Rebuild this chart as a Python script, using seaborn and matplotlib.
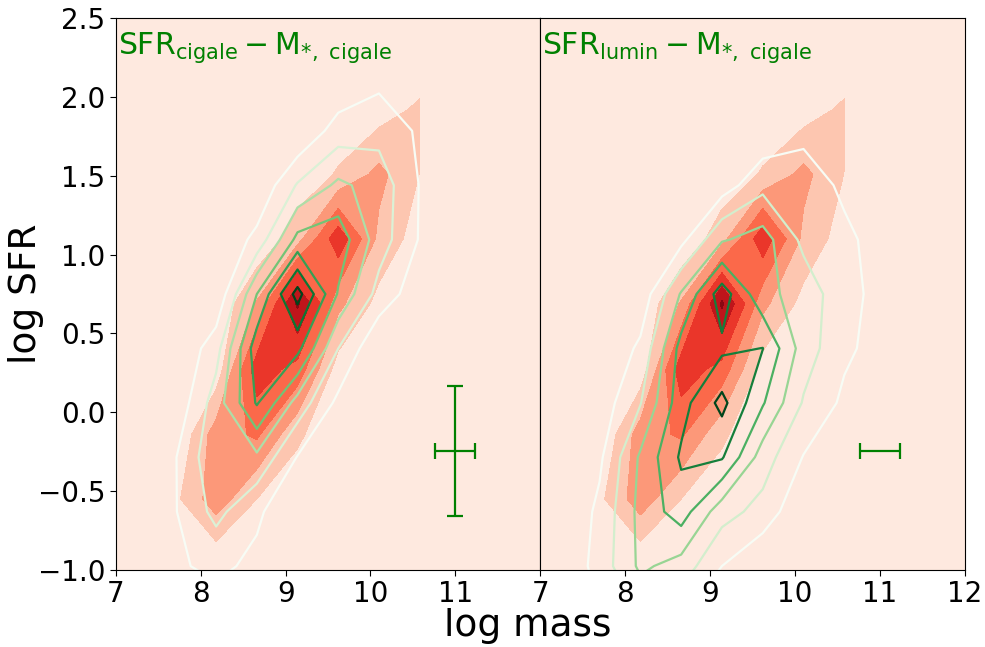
import numpy as np
import matplotlib
matplotlib.use("Agg")
import matplotlib.pyplot as plt
import seaborn as sns

sns.set_style("ticks")
plt.rcParams['font.family'] = ['DejaVu Sans']
plt.rcParams['mathtext.fontset'] = 'dejavusans'
plt.rcParams['text.color'] = 'black'
plt.rcParams['axes.labelcolor'] = 'black'
plt.rcParams['xtick.color'] = 'black'
plt.rcParams['ytick.color'] = 'black'

# ---- data: binned density grids ----
mass_red = [7.22, 7.70, 8.18, 8.66, 9.14, 9.62, 10.10, 10.58]
sfr_red = [-1.38, -0.97, -0.55, -0.14, 0.27, 0.69, 1.10, 1.51, 1.92, 2.33]
dens_red = [
    [0, 0.00, 0.00, 0.00, 0.0, 0.00, 0.00, 0.00],
    [0, 0.10, 0.10, 0.30, 0.1, 0.00, 0.00, 0.00],
    [0, 0.77, 2.60, 1.00, 0.3, 0.10, 0.00, 0.00],
    [0, 0.00, 2.50, 3.17, 1.2, 0.10, 0.00, 0.00],
    [0, 0.00, 0.35, 4.60, 3.6, 0.50, 0.30, 0.10],
    [0, 0.00, 0.10, 2.10, 6.2, 2.29, 0.65, 0.20],
    [0, 0.00, 0.00, 0.10, 1.6, 4.70, 1.74, 0.50],
    [0, 0.00, 0.00, 0.00, 0.3, 1.10, 2.30, 0.98],
    [0, 0.00, 0.00, 0.00, 0.0, 0.30, 0.50, 1.20],
    [0, 0.00, 0.00, 0.00, 0.0, 0.00, 0.00, 0.00],
]

mass_green = [7.22, 7.70, 8.18, 8.66, 9.14, 9.62, 10.10, 10.58, 11.06]
sfr_green = [-1.32, -0.975, -0.63, -0.285, 0.06, 0.405, 0.75, 1.095,
             1.44, 1.785, 2.13, 2.475]
dens_cigale = [
    [0, 0.30, 0.50, 0.20, 0.00, 0.00, 0.00, 0.00, 0],
    [0, 0.88, 1.20, 0.80, 0.10, 0.00, 0.00, 0.00, 0],
    [0, 0.95, 2.30, 1.15, 0.30, 0.10, 0.00, 0.00, 0],
    [0, 0.95, 2.80, 2.80, 0.95, 0.30, 0.00, 0.00, 0],
    [0, 0.25, 2.50, 5.10, 2.60, 0.75, 0.00, 0.00, 0],
    [0, 0.00, 1.59, 5.60, 5.30, 2.00, 0.10, 0.10, 0],
    [0, 0.00, 0.10, 4.00, 7.40, 3.90, 1.62, 0.40, 0],
    [0, 0.00, 0.00, 1.30, 4.30, 4.60, 2.50, 0.93, 0],
    [0, 0.00, 0.00, 0.10, 2.10, 3.20, 2.60, 0.96, 0],
    [0, 0.00, 0.00, 0.00, 0.00, 1.50, 1.66, 0.85, 0],
    [0, 0.00, 0.00, 0.00, 0.00, 0.00, 0.70, 0.30, 0],
    [0, 0.00, 0.00, 0.00, 0.00, 0.00, 0.00, 0.00, 0],
]
dens_lumin = [
    [0, 0.90, 2.00, 1.00, 0.20, 0.00, 0.00, 0.00, 0.00],
    [0, 1.41, 3.20, 2.60, 1.00, 0.00, 0.00, 0.00, 0.00],
    [0, 1.22, 3.30, 4.50, 2.40, 1.65, 0.10, 0.00, 0.00],
    [0, 0.82, 3.15, 5.15, 5.10, 2.50, 0.95, 0.00, 0.00],
    [0, 0.43, 1.95, 4.60, 6.30, 4.10, 1.90, 0.79, 0.30],
    [0, 0.00, 1.20, 4.35, 4.80, 5.02, 2.53, 1.20, 0.55],
    [0, 0.00, 0.30, 3.10, 5.50, 3.30, 2.59, 1.36, 0.60],
    [0, 0.00, 0.00, 0.70, 2.90, 3.43, 1.75, 1.20, 0.60],
    [0, 0.00, 0.00, 0.00, 0.50, 1.71, 1.50, 0.82, 0.30],
    [0, 0.00, 0.00, 0.00, 0.00, 0.26, 0.75, 0.30, 0.00],
    [0, 0.00, 0.00, 0.00, 0.00, 0.00, 0.20, 0.00, 0.00],
    [0, 0.00, 0.00, 0.00, 0.00, 0.00, 0.00, 0.00, 0.00],
]

err_x = [11.0]
err_y = [-0.245]
err_mass = [0.235]
err_sfr_left = [0.41]

labels = [r'$\mathrm{SFR_{cigale}-M_{*,\ cigale}}$',
          r'$\mathrm{SFR_{lumin}-M_{*,\ cigale}}$']

red_levels = list(range(8))
reds = sns.color_palette("Reds", as_cmap=True)
greens = sns.color_palette("Greens", as_cmap=True)
bg = reds(0.5 / 7)

fig = plt.figure(figsize=(9.85, 6.47), dpi=100)
ax1 = fig.add_axes([0.1178, 0.119, 0.4305, 0.853])
ax2 = fig.add_axes([0.5483, 0.119, 0.4314, 0.853], sharey=ax1)

for ax, dens, lev, lab in [(ax1, dens_cigale, list(range(1, 8)), labels[0]),
                           (ax2, dens_lumin, list(range(1, 7)), labels[1])]:
    ax.set_facecolor(bg)
    ax.contourf(mass_red, sfr_red, np.array(dens_red), levels=red_levels, cmap=reds)
    ax.contour(mass_green, sfr_green, np.array(dens), levels=lev, cmap=greens,
               linewidths=1.6)
    ax.set_xlim(7, 12)
    ax.set_ylim(-1, 2.5)
    ax.text(0.004, 0.978, lab, transform=ax.transAxes, ha='left', va='top',
            color='green', fontsize=21.5)
    for s in ax.spines.values():
        s.set_visible(True)
        s.set_color('black')
        s.set_linewidth(0.8)
    ax.tick_params(labelsize=20, direction='out', length=4, colors='black')

ax1.errorbar(err_x, err_y, xerr=err_mass, yerr=err_sfr_left, color='green',
             capsize=5.8, elinewidth=1.6, capthick=1.6, fmt='none')
ax2.errorbar(err_x, err_y, xerr=err_mass, color='green',
             capsize=5.8, elinewidth=1.6, capthick=1.6, fmt='none')

ax1.set_xticks([7, 8, 9, 10, 11])
ax2.set_xticks([7, 8, 9, 10, 11, 12])
ax1.set_yticks([-1.0, -0.5, 0.0, 0.5, 1.0, 1.5, 2.0, 2.5])
ax1.set_yticklabels(['\u22121.0', '\u22120.5', '0.0', '0.5', '1.0', '1.5', '2.0', '2.5'])
ax2.tick_params(axis='y', left=False, labelleft=False)
ax1.set_ylabel('log SFR', fontsize=27)
ax1.yaxis.set_label_coords(-0.17, 0.5)
fig.text(0.536, 0.005, 'log mass', ha='center', va='bottom', fontsize=27)

fig.savefig('out.png', dpi=100)
